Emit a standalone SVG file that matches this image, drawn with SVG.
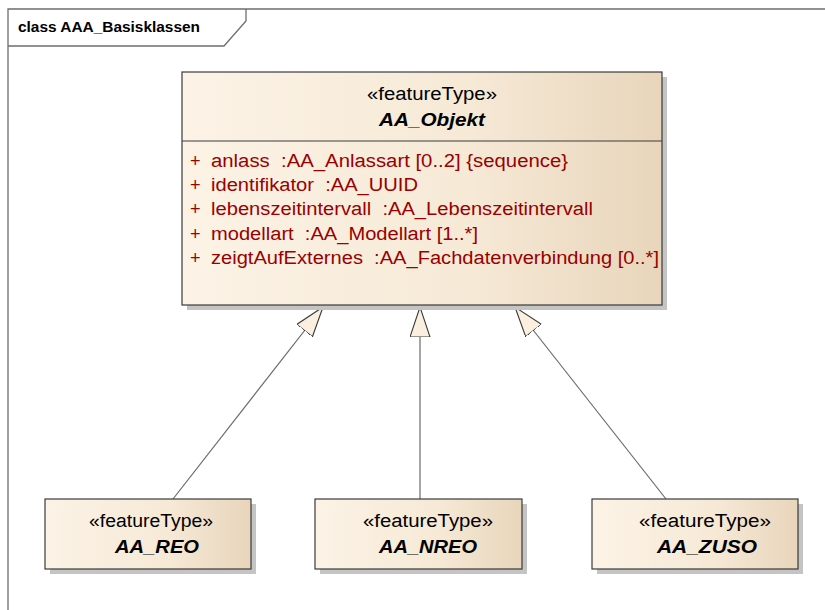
<svg xmlns="http://www.w3.org/2000/svg" width="825" height="610" viewBox="0 0 825 610">
<style>
.frame{fill:none;stroke:#6e6e6e;stroke-width:1.3}
.box{fill:url(#g);stroke:#3a3a3a;stroke-width:1.2}
.shadow{fill:#c4c4c4}
text{white-space:pre;font-family:"Liberation Sans",Arial,sans-serif}
.st{font-size:18px;fill:#000;text-anchor:middle}
.nm{font-size:18px;font-weight:bold;font-style:italic;fill:#000;text-anchor:middle}
.at{font-size:18px;fill:#990000}
.lbl{font-size:15px;font-weight:bold;fill:#000}
.conn{stroke:#6a6a6a;stroke-width:1.2;fill:none}
.head{fill:#fbf0df;stroke:#3a3a3a;stroke-width:1.1}
</style>
<defs>
<linearGradient id="g" x1="0" y1="0" x2="1" y2="0">
<stop offset="0" stop-color="#fcf3e6"/>
<stop offset="0.6" stop-color="#f6e9d6"/>
<stop offset="1" stop-color="#e8d5bb"/>
</linearGradient>
<marker id="gen" markerWidth="32" markerHeight="24" refX="30" refY="10" orient="auto" markerUnits="userSpaceOnUse" viewBox="0 0 32 24">
<path class="head" d="M30,10 L0,0 L0,20 Z"/>
</marker>
</defs>
<rect width="825" height="610" fill="#ffffff"/>
<g id="frame">
<path class="frame" d="M8,610 L8,9 L825,9"/>
<path class="frame" d="M8,46 L224,46 L246,21 L246,9"/>
<text class="lbl" x="18" y="32" textLength="182" lengthAdjust="spacingAndGlyphs">class AAA_Basisklassen</text>
</g>
<g id="connectors">
<line class="conn" x1="173" y1="499" x2="323" y2="307" marker-end="url(#gen)"/>
<line class="conn" x1="420" y1="499" x2="420" y2="307" marker-end="url(#gen)"/>
<line class="conn" x1="666" y1="499" x2="515" y2="307" marker-end="url(#gen)"/>
</g>
<g id="AA_Objekt">
<rect class="shadow" x="187" y="77" width="480" height="233"/>
<rect class="box" x="182" y="72" width="480" height="233"/>
<line x1="182" y1="141" x2="662" y2="141" stroke="#3a3a3a" stroke-width="1.2"/>
<text class="st" x="432" y="100" textLength="130" lengthAdjust="spacingAndGlyphs">«featureType»</text>
<text class="nm" x="432" y="126" textLength="106" lengthAdjust="spacingAndGlyphs">AA_Objekt</text>
<text class="at" x="190" y="167">+</text>
<text class="at" x="211" y="167" textLength="357" lengthAdjust="spacingAndGlyphs">anlass  :AA_Anlassart [0..2] {sequence}</text>
<text class="at" x="190" y="191">+</text>
<text class="at" x="211" y="191" textLength="207" lengthAdjust="spacingAndGlyphs">identifikator  :AA_UUID</text>
<text class="at" x="190" y="215">+</text>
<text class="at" x="211" y="215" textLength="382" lengthAdjust="spacingAndGlyphs">lebenszeitintervall  :AA_Lebenszeitintervall</text>
<text class="at" x="190" y="240">+</text>
<text class="at" x="211" y="240" textLength="267" lengthAdjust="spacingAndGlyphs">modellart  :AA_Modellart [1..*]</text>
<text class="at" x="190" y="264">+</text>
<text class="at" x="211" y="264" textLength="448" lengthAdjust="spacingAndGlyphs">zeigtAufExternes  :AA_Fachdatenverbindung [0..*]</text>
</g>
<g id="AA_REO">
<rect class="shadow" x="50" y="504" width="206" height="70"/>
<rect class="box" x="45" y="499" width="206" height="70"/>
<text class="st" x="151" y="527" textLength="124" lengthAdjust="spacingAndGlyphs">«featureType»</text>
<text class="nm" x="157" y="553" textLength="84" lengthAdjust="spacingAndGlyphs">AA_REO</text>
</g>
<g id="AA_NREO">
<rect class="shadow" x="320" y="504" width="207" height="70"/>
<rect class="box" x="315" y="499" width="207" height="70"/>
<text class="st" x="428" y="527" textLength="130" lengthAdjust="spacingAndGlyphs">«featureType»</text>
<text class="nm" x="428" y="553" textLength="98" lengthAdjust="spacingAndGlyphs">AA_NREO</text>
</g>
<g id="AA_ZUSO">
<rect class="shadow" x="597" y="504" width="206" height="70"/>
<rect class="box" x="592" y="499" width="206" height="70"/>
<text class="st" x="705" y="527" textLength="132" lengthAdjust="spacingAndGlyphs">«featureType»</text>
<text class="nm" x="707" y="553" textLength="100" lengthAdjust="spacingAndGlyphs">AA_ZUSO</text>
</g>
</svg>
